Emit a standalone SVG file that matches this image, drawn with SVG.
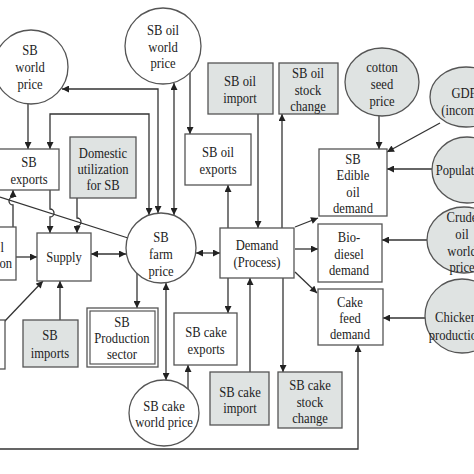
<svg xmlns="http://www.w3.org/2000/svg" width="474" height="474" viewBox="0 0 474 474">
<defs>
<marker id="ah" viewBox="0 0 10 10" refX="10" refY="5" markerWidth="8" markerHeight="7" markerUnits="userSpaceOnUse" orient="auto-start-reverse">
<path d="M0,0 L10,5 L0,10 z" fill="#222"/>
</marker>
<style>
.bx{fill:#fff;stroke:#555;stroke-width:1.3}
.gy{fill:#dfe3e2;stroke:#555;stroke-width:1.3}
.t{font-family:"Liberation Serif",serif;font-size:15px;fill:#222;text-anchor:middle}
.te{font-family:"Liberation Serif",serif;font-size:15px;fill:#222;text-anchor:end}
.c{fill:none;stroke:#333;stroke-width:1.3}
.a{marker-end:url(#ah)}
.b{marker-start:url(#ah);marker-end:url(#ah)}
</style>
</defs>
<rect width="474" height="474" fill="#fff"/>
<g id="connectors">
<path class="c a" d="M28,104 V149"/>
<path class="c b" d="M158,213 V89 H62"/>
<path class="c b" d="M149,215 V114 H50 V149"/>
<path class="c b" d="M174,215 V83"/>
<path class="c a" d="M190,73 V134"/>
<path class="c a" d="M258,114 V228"/>
<path class="c a" d="M228,228 V185"/>
<path class="c a" d="M282,228 V114"/>
<path class="c a" d="M379,116 V149"/>
<path class="c a" d="M440,123 L387,152"/>
<path class="c a" d="M432,169 H387"/>
<path class="c a" d="M427,240 H382"/>
<path class="c a" d="M425,318 H383"/>
<path class="c a" d="M295,227 L318,218"/>
<path class="c a" d="M295,249 H318"/>
<path class="c a" d="M295,272 L317,293"/>
<path class="c a" d="M0,449 H358 V345"/>
<path class="c a" d="M283,278 V372"/>
<path class="c a" d="M250,372 V278"/>
<path class="c a" d="M228,278 V313"/>
<path class="c b" d="M166,283 V380"/>
<path class="c a" d="M188,389 V365"/>
<path class="c a" d="M137,273 V308"/>
<path class="c b" d="M91,254 H126"/>
<path class="c b" d="M196,253 H220"/>
<path class="c a" d="M50,190 V209 A4,4 0 0 1 50,217 V233"/>
<path class="c a" d="M77,198 V218 A4,4 0 0 1 77,226 V233"/>
<path class="c a" d="M13,227 V205 A4,4 0 0 1 13,197 V190"/>
<path class="c a" d="M16,257 H37"/>
<path class="c a" d="M4,322 L43,281"/>
<path class="c a" d="M60,320 V281"/>
<path class="c" d="M0,197 L128,238"/>
</g>
<g id="sb-world-price">
<circle cx="31" cy="67" r="37" class="bx"/>
<text class="t" transform="translate(30 0) scale(.84 1)"><tspan x="0" y="55">SB</tspan><tspan x="0" y="72">world</tspan><tspan x="0" y="89">price</tspan></text>
</g>
<g id="sb-oil-world-price">
<circle cx="163" cy="46" r="38" class="bx"/>
<text class="t" transform="translate(163 0) scale(.84 1)"><tspan x="0" y="35">SB oil</tspan><tspan x="0" y="52">world</tspan><tspan x="0" y="68">price</tspan></text>
</g>
<g id="sb-exports">
<rect x="-1" y="149" width="60" height="41" class="bx"/>
<text class="t" transform="translate(29 0) scale(.84 1)"><tspan x="0" y="167">SB</tspan><tspan x="0" y="184">exports</tspan></text>
</g>
<g id="domestic-utilization">
<rect x="70" y="137" width="66" height="61" class="gy"/>
<text class="t" transform="translate(103 0) scale(.84 1)"><tspan x="0" y="158">Domestic</tspan><tspan x="0" y="174">utilization</tspan><tspan x="0" y="190">for SB</tspan></text>
</g>
<g id="sb-oil-exports">
<rect x="185" y="134" width="66" height="51" class="bx"/>
<text class="t" transform="translate(218 0) scale(.84 1)"><tspan x="0" y="157">SB oil</tspan><tspan x="0" y="174">exports</tspan></text>
</g>
<g id="sb-oil-import">
<rect x="208" y="63" width="65" height="51" class="gy"/>
<text class="t" transform="translate(240 0) scale(.84 1)"><tspan x="0" y="86">SB oil</tspan><tspan x="0" y="103">import</tspan></text>
</g>
<g id="sb-oil-stock-change">
<rect x="279" y="63" width="59" height="51" class="gy"/>
<text class="t" transform="translate(308 0) scale(.84 1)"><tspan x="0" y="78">SB oil</tspan><tspan x="0" y="95">stock</tspan><tspan x="0" y="111">change</tspan></text>
</g>
<g id="cotton-seed-price">
<ellipse cx="382" cy="82" rx="37" ry="34" class="gy"/>
<text class="t" transform="translate(382 0) scale(.84 1)"><tspan x="0" y="72">cotton</tspan><tspan x="0" y="89">seed</tspan><tspan x="0" y="106">price</tspan></text>
</g>
<g id="gdp">
<ellipse cx="466" cy="97" rx="36" ry="30" class="gy"/>
<text class="t" transform="translate(464 0) scale(.84 1)"><tspan x="0" y="98">GDP</tspan><tspan x="0" y="115">(income)</tspan></text>
</g>
<g id="population">
<ellipse cx="467" cy="170" rx="35" ry="33" class="gy"/>
<text class="t" transform="translate(463 0) scale(.84 1)"><tspan x="0" y="175">Population</tspan></text>
</g>
<g id="crude-oil-world-price">
<ellipse cx="464" cy="240" rx="37" ry="33" class="gy"/>
<text class="t" transform="translate(462 0) scale(.84 1)"><tspan x="0" y="222">Crude</tspan><tspan x="0" y="239">oil</tspan><tspan x="0" y="256">world</tspan><tspan x="0" y="272">price</tspan></text>
</g>
<g id="chicken-production">
<ellipse cx="462" cy="316" rx="37" ry="37" class="gy"/>
<text class="t" transform="translate(456 0) scale(.84 1)"><tspan x="0" y="322">Chicken</tspan><tspan x="0" y="340">production</tspan></text>
</g>
<g id="sb-edible-oil-demand">
<rect x="319" y="149" width="68" height="67" class="bx"/>
<text class="t" transform="translate(353 0) scale(.84 1)"><tspan x="0" y="164">SB</tspan><tspan x="0" y="180.5">Edible</tspan><tspan x="0" y="197">oil</tspan><tspan x="0" y="213">demand</tspan></text>
</g>
<g id="bio-diesel-demand">
<rect x="318" y="224" width="64" height="58" class="bx"/>
<text class="t" transform="translate(349 0) scale(.84 1)"><tspan x="0" y="242">Bio-</tspan><tspan x="0" y="259">diesel</tspan><tspan x="0" y="275">demand</tspan></text>
</g>
<g id="cake-feed-demand">
<rect x="318" y="289" width="65" height="56" class="bx"/>
<text class="t" transform="translate(350 0) scale(.84 1)"><tspan x="0" y="307">Cake</tspan><tspan x="0" y="323">feed</tspan><tspan x="0" y="339">demand</tspan></text>
</g>
<g id="demand">
<rect x="220" y="228" width="74" height="50" class="bx"/>
<text class="t" transform="translate(257 0) scale(.84 1)"><tspan x="0" y="250">Demand</tspan><tspan x="0" y="267">(Process)</tspan></text>
</g>
<g id="sb-farm-price">
<circle cx="161" cy="248" r="35" class="bx"/>
<text class="t" transform="translate(161 0) scale(.84 1)"><tspan x="0" y="242">SB</tspan><tspan x="0" y="259">farm</tspan><tspan x="0" y="276">price</tspan></text>
</g>
<g id="supply">
<rect x="37" y="233" width="54" height="48" class="bx"/>
<text class="t" transform="translate(64 0) scale(.84 1)"><tspan x="0" y="262">Supply</tspan></text>
</g>
<g id="sb-production-sector">
<rect x="87" y="308" width="71" height="59" class="bx"/>
<rect x="90" y="311" width="65" height="53" fill="none" stroke="#555" stroke-width="1.2"/>
<text class="t" transform="translate(122 0) scale(.84 1)"><tspan x="0" y="327">SB</tspan><tspan x="0" y="343">Production</tspan><tspan x="0" y="359">sector</tspan></text>
</g>
<g id="sb-imports">
<rect x="23" y="320" width="55" height="47" class="gy"/>
<text class="t" transform="translate(50 0) scale(.84 1)"><tspan x="0" y="340">SB</tspan><tspan x="0" y="358">imports</tspan></text>
</g>
<g id="sb-cake-exports">
<rect x="174" y="313" width="63" height="52" class="bx"/>
<text class="t" transform="translate(206 0) scale(.84 1)"><tspan x="0" y="337">SB cake</tspan><tspan x="0" y="354">exports</tspan></text>
</g>
<g id="sb-cake-world-price">
<ellipse cx="164" cy="413" rx="35" ry="33" class="bx"/>
<text class="t" transform="translate(164 0) scale(.84 1)"><tspan x="0" y="411">SB cake</tspan><tspan x="0" y="427">world  price</tspan></text>
</g>
<g id="sb-cake-import">
<rect x="210" y="372" width="59" height="53" class="gy"/>
<text class="t" transform="translate(240 0) scale(.84 1)"><tspan x="0" y="397">SB cake</tspan><tspan x="0" y="413">import</tspan></text>
</g>
<g id="sb-cake-stock-change">
<rect x="278" y="372" width="64" height="56" class="gy"/>
<text class="t" transform="translate(310 0) scale(.84 1)"><tspan x="0" y="390">SB cake</tspan><tspan x="0" y="407">stock</tspan><tspan x="0" y="423">change</tspan></text>
</g>
<g id="left-node-a">
<rect x="-40" y="227" width="56" height="53" class="bx"/>
<text class="te" transform="translate(4 0) scale(.84 1)"><tspan x="0" y="252">l</tspan></text>
<text class="te" transform="translate(12 0) scale(.84 1)"><tspan x="0" y="268">on</tspan></text>
</g>
<g id="left-node-b">
<rect x="-40" y="320" width="45" height="49" class="bx"/>
</g>
</svg>
